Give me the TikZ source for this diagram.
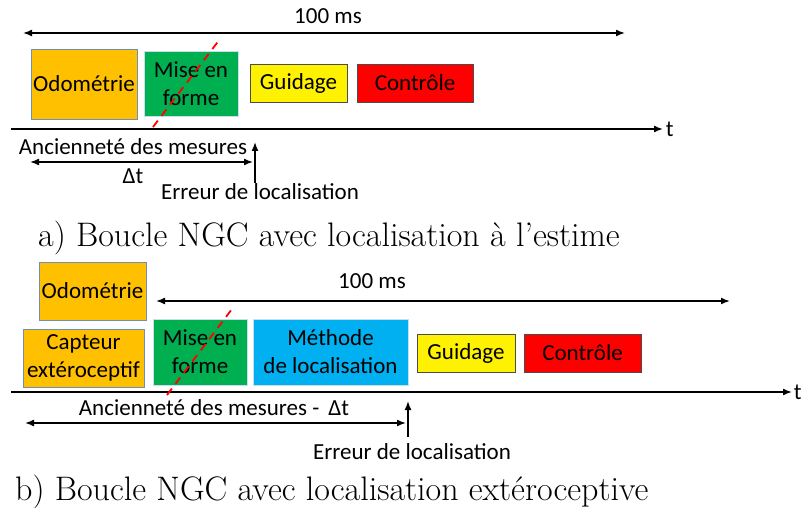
\documentclass[tikz,border=0pt]{standalone}
\usepackage{fontspec}
\newfontfamily\calib{Carlito}
\usetikzlibrary{arrows.meta}
\definecolor{orangeodo}{HTML}{FFC000}
\definecolor{vertmef}{HTML}{00B050}
\definecolor{bleuloc}{HTML}{00B0F0}
\definecolor{bordbleu}{HTML}{6F8FB8}
\definecolor{bordpale}{HTML}{C9DDEE}
\begin{document}
\begin{tikzpicture}[x=1pt,y=-1pt,
  every node/.style={font=\calib\fontsize{23}{28}\selectfont},
  boite/.style={draw,line width=0.8pt,inner sep=0pt,align=center},
  fleche/.style={line width=1.6pt,-{Latex[length=9pt,width=7pt]}},
  double/.style={line width=1.6pt,{Latex[length=9pt,width=7pt]}-{Latex[length=9pt,width=7pt]}},
  coupe/.style={red,line width=1.8pt,dash pattern=on 8pt off 6pt},
  legende/.style={font=\fontsize{34}{40}\selectfont,anchor=west,inner sep=0pt}]
\useasboundingbox (0,0) rectangle (803,508);
% a) localisation a l'estime
\node[boite,fill=orangeodo,draw=bordbleu,minimum width=106pt,minimum height=70pt] (odoA) at (84,84) {Odométrie};
\node[boite,fill=vertmef,draw=bordpale,minimum width=94pt,minimum height=65pt] (mefA) at (191,83.5) {Mise en\\forme};
\node[boite,fill=yellow,draw=black!70,minimum width=97pt,minimum height=38pt] (guidA) at (298.5,83) {Guidage};
\node[boite,fill=red,draw=black!70,minimum width=116pt,minimum height=38pt] (ctrlA) at (415,83) {Contrôle};
\coordinate (cycA0) at (23,33);
\coordinate (cycA1) at (625,33);
\draw[double] (cycA0) -- (cycA1);
\node (msA) at (328,16) {100 ms};
\coordinate (axeA0) at (11,129);
\coordinate (axeA1) at (663,129);
\draw[fleche] (axeA0) -- (axeA1) node[right,inner sep=2pt] (tA) {t};
\coordinate (coupeA0) at (153,127);
\coordinate (coupeA1) at (220,39);
\draw[coupe] (coupeA0) -- (coupeA1);
\node (ancA) at (133,147) {Ancienneté des mesures};
\coordinate (dtA0) at (30,162);
\coordinate (dtA1) at (253,162);
\draw[double] (dtA0) -- (dtA1);
\node (dtlA) at (133,176) {Δt};
\coordinate (errA0) at (255,183);
\coordinate (errA1) at (255,142);
\draw[fleche] (errA0) -- (errA1);
\node (errlA) at (260,192) {Erreur de localisation};
\node[legende] (capA) at (38,238) {a) Boucle NGC avec localisation à l'estime};
% b) localisation exteroceptive
\node[boite,fill=orangeodo,draw=bordbleu,minimum width=107pt,minimum height=58pt] (odoB) at (92.5,291) {Odométrie};
\node[boite,fill=orangeodo,draw=bordbleu,minimum width=121pt,minimum height=58pt] (captB) at (83.5,358) {Capteur\\extéroceptif};
\node[boite,fill=vertmef,draw=bordpale,minimum width=94pt,minimum height=66pt] (mefB) at (200,352) {Mise en\\forme};
\node[boite,fill=bleuloc,draw=bordpale,minimum width=155pt,minimum height=66pt] (locB) at (330.5,352) {Méthode\\de localisation};
\node[boite,fill=yellow,draw=black!70,minimum width=98pt,minimum height=38pt] (guidB) at (466,353) {Guidage};
\node[boite,fill=red,draw=black!70,minimum width=117pt,minimum height=38pt] (ctrlB) at (582.5,353) {Contrôle};
\coordinate (cycB0) at (156,301);
\coordinate (cycB1) at (730,301);
\draw[double] (cycB0) -- (cycB1);
\node (msB) at (372,281) {100 ms};
\coordinate (axeB0) at (11,392);
\coordinate (axeB1) at (792,392);
\draw[fleche] (axeB0) -- (axeB1) node[right,inner sep=1pt] (tB) {t};
\coordinate (coupeB0) at (167,395);
\coordinate (coupeB1) at (232,309);
\draw[coupe] (coupeB0) -- (coupeB1);
\node (ancB) at (214,408) {Ancienneté des mesures -\, Δt};
\coordinate (dtB0) at (25,423);
\coordinate (dtB1) at (406,423);
\draw[double] (dtB0) -- (dtB1);
\coordinate (errB0) at (408,437);
\coordinate (errB1) at (408,401);
\draw[fleche] (errB0) -- (errB1);
\node (errlB) at (412,452) {Erreur de localisation};
\node[legende] (capB) at (15,492) {b) Boucle NGC avec localisation extéroceptive};
\end{tikzpicture}
\end{document}
